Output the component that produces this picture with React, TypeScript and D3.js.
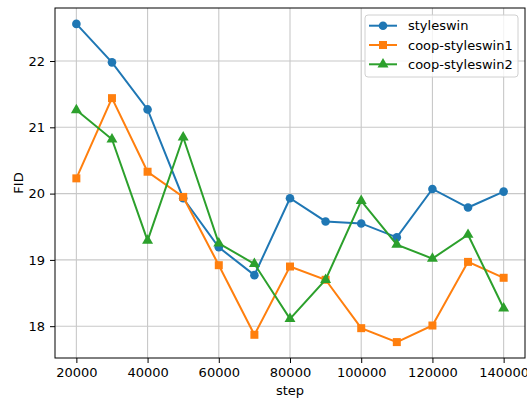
import React, { useEffect, useRef } from "react";
import * as d3 from "d3";

// training steps
const steps = [20000, 30000, 40000, 50000, 60000, 70000, 80000, 90000, 100000, 110000, 120000, 130000, 140000];

// FID per run
const styleswin = [22.56, 21.98, 21.27, 19.93, 19.19, 18.77, 19.93, 19.58, 19.55, 19.34, 20.07, 19.79, 20.03];
const coopStyleswin1 = [20.23, 21.44, 20.33, 19.95, 18.92, 17.87, 18.9, 18.7, 17.97, 17.76, 18.01, 18.97, 18.73];
const coopStyleswin2 = [21.26, 20.82, 19.29, 20.85, 19.25, 18.94, 18.11, 18.7, 19.89, 19.23, 19.02, 19.38, 18.27];

const xTicks = [20000, 40000, 60000, 80000, 100000, 120000, 140000];
const yTicks = [18, 19, 20, 21, 22];

const seriesNames = ["styleswin", "coop-styleswin1", "coop-styleswin2"];
const seriesColors = ["#1f77b4", "#ff7f0e", "#2ca02c"];
const seriesMarkers = ["circle", "square", "triangle"];

const W = 527;
const H = 399;
const margin = { top: 8, right: 2, bottom: 41, left: 55 };
const FONT = "DejaVu Sans, sans-serif";

const Chart: React.FC = () => {
    const ref = useRef<SVGSVGElement>(null);

    useEffect(() => {
        document.body.style.margin = "0";
        document.body.style.overflow = "hidden";

        const svg = d3.select(ref.current);
        svg.selectAll("*").remove();

        const width = W - margin.left - margin.right;
        const height = H - margin.top - margin.bottom;

        const allVals = [...styleswin, ...coopStyleswin1, ...coopStyleswin2];
        const yMin = d3.min(allVals)!;
        const yMax = d3.max(allVals)!;
        const yPad = (yMax - yMin) * 0.05;
        const xPad = (d3.max(steps)! - d3.min(steps)!) * 0.05;

        const x = d3
            .scaleLinear()
            .domain([d3.min(steps)! - xPad, d3.max(steps)! + xPad])
            .range([0, width]);
        const y = d3
            .scaleLinear()
            .domain([yMin - yPad, yMax + yPad])
            .range([height, 0]);

        const g = svg
            .append("g")
            .attr("transform", "translate(" + margin.left + "," + margin.top + ")");

        // grid
        g.append("g")
            .selectAll("line")
            .data(xTicks)
            .enter()
            .append("line")
            .attr("x1", (d) => x(d))
            .attr("x2", (d) => x(d))
            .attr("y1", 0)
            .attr("y2", height)
            .attr("stroke", "#c8c8c8")
            .attr("stroke-width", 1.1);
        g.append("g")
            .selectAll("line")
            .data(yTicks)
            .enter()
            .append("line")
            .attr("x1", 0)
            .attr("x2", width)
            .attr("y1", (d) => y(d))
            .attr("y2", (d) => y(d))
            .attr("stroke", "#c8c8c8")
            .attr("stroke-width", 1.1);

        // axes
        const xAxis = g
            .append("g")
            .attr("transform", "translate(0," + height + ")")
            .call(d3.axisBottom(x).tickValues(xTicks).tickFormat(d3.format("d")).tickSize(5).tickPadding(5));
        const yAxis = g
            .append("g")
            .call(d3.axisLeft(y).tickValues(yTicks).tickFormat(d3.format("d")).tickSize(5).tickPadding(5));
        [xAxis, yAxis].forEach((a) => {
            a.select(".domain").remove();
            a.selectAll("text")
                .attr("font-family", FONT)
                .attr("font-size", 13)
                .attr("fill", "#000");
            a.selectAll("line").attr("stroke", "#000").attr("stroke-width", 1);
        });

        // series
        const allSeries = [styleswin, coopStyleswin1, coopStyleswin2];
        const symbolFor = (m: string) =>
            m === "circle" ? d3.symbolCircle : m === "square" ? d3.symbolSquare : d3.symbolTriangle;
        const symbolSize = (m: string) => (m === "circle" ? 58 : m === "square" ? 64 : 52);

        allSeries.forEach((vals, i) => {
            const pts = steps.map((s, j) => [s, vals[j]] as [number, number]);
            const line = d3
                .line<[number, number]>()
                .x((d) => x(d[0]))
                .y((d) => y(d[1]));
            g.append("path")
                .datum(pts)
                .attr("d", line)
                .attr("fill", "none")
                .attr("stroke", seriesColors[i])
                .attr("stroke-width", 2);
            g.append("g")
                .selectAll("path")
                .data(pts)
                .enter()
                .append("path")
                .attr("transform", (d) => "translate(" + x(d[0]) + "," + y(d[1]) + ")")
                .attr("d", d3.symbol().type(symbolFor(seriesMarkers[i])).size(symbolSize(seriesMarkers[i]))()!)
                .attr("fill", seriesColors[i]);
        });

        // frame
        g.append("rect")
            .attr("width", width)
            .attr("height", height)
            .attr("fill", "none")
            .attr("stroke", "#000")
            .attr("stroke-width", 1);

        // axis labels
        svg.append("text")
            .attr("x", margin.left + width / 2)
            .attr("y", 395)
            .attr("text-anchor", "middle")
            .attr("font-family", FONT)
            .attr("font-size", 13)
            .text("step");
        svg.append("text")
            .attr("transform", "translate(23," + (margin.top + height / 2) + ") rotate(-90)")
            .attr("text-anchor", "middle")
            .attr("font-family", FONT)
            .attr("font-size", 13)
            .text("FID");

        // legend
        const leg = svg.append("g").attr("transform", "translate(365,15)");
        leg.append("rect")
            .attr("width", 153)
            .attr("height", 62)
            .attr("rx", 3)
            .attr("fill", "#fff")
            .attr("fill-opacity", 0.8)
            .attr("stroke", "#d0d0d0")
            .attr("stroke-width", 1);
        seriesNames.forEach((name, i) => {
            const cy = 10.7 + i * 19.3;
            leg.append("line")
                .attr("x1", 4)
                .attr("x2", 32)
                .attr("y1", cy)
                .attr("y2", cy)
                .attr("stroke", seriesColors[i])
                .attr("stroke-width", 2);
            leg.append("path")
                .attr("transform", "translate(18," + cy + ")")
                .attr("d", d3.symbol().type(symbolFor(seriesMarkers[i])).size(symbolSize(seriesMarkers[i]))()!)
                .attr("fill", seriesColors[i]);
            leg.append("text")
                .attr("x", 43)
                .attr("y", cy + 4.6)
                .attr("font-family", FONT)
                .attr("font-size", 13)
                .text(name);
        });
    }, []);

    return <svg ref={ref} width={W} height={H} style={{ display: "block" }}></svg>;
};

export default function App() {
    return <Chart />;
}
